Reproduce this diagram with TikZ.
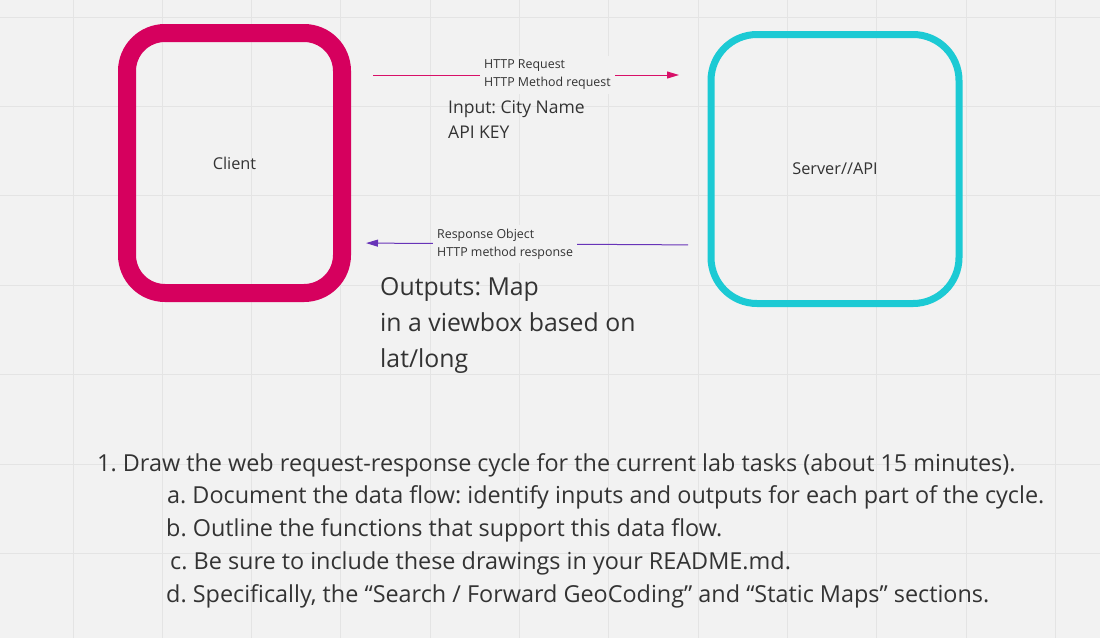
\documentclass[tikz,border=0pt]{standalone}
\usepackage{fontspec}
\setmainfont{Open Sans}
\frenchspacing
\usetikzlibrary{arrows.meta, positioning, calc}
\definecolor{bgcol}{RGB}{242,242,242}
\definecolor{gridcol}{RGB}{228,228,228}
\definecolor{clientcol}{RGB}{214,0,94}
\definecolor{servercol}{RGB}{28,202,212}
\definecolor{reqcol}{RGB}{216,16,104}
\definecolor{respcol}{RGB}{104,52,184}
\definecolor{textcol}{RGB}{51,51,51}

\begin{document}
\begin{tikzpicture}[
			x=1pt, y=-1pt,
			every node/.style={text=textcol},
			box/.style={
				draw,
				rectangle,
				font=\fontsize{16.3}{18}\selectfont
			},
			flowlabel/.style={
				align=left,
				anchor=west,
				fill=bgcol,
				inner sep=4pt,
				font=\fontsize{12.4}{18}\selectfont
			},
			note/.style={
				align=left,
				anchor=north west,
				inner sep=0pt
			},
			task/.style={
				anchor=base west,
				inner sep=0pt,
				font=\fontsize{23.4}{33}\selectfont
			},
			flow/.style={
				-{Triangle[length=12pt, width=7pt]},
				line width=1pt
			}
			]
			% Canvas and grid
			\fill[bgcol] (0,0) rectangle (1100,638);
			\useasboundingbox (0,0) rectangle (1100,638);
			\foreach \gx in {0,...,11}
				\draw[gridcol, line width=1pt] (73+89.3*\gx,0) -- (73+89.3*\gx,638);
			\foreach \gy in {0,...,6}
				\draw[gridcol, line width=1pt] (0,17+89.4*\gy) -- (1100,17+89.4*\gy);
			% Client and server
			\node[box, draw=clientcol, line width=18pt, rounded corners=38pt,
				minimum width=215pt, minimum height=260pt] (client) at (234.5,163) {Client};
			\node[box, draw=servercol, line width=7pt, rounded corners=46pt,
				minimum width=248pt, minimum height=269pt] (server) at (835,169) {Server//API};
			% Request and response
			\draw[flow, reqcol, shorten <=22pt, shorten >=28.5pt]
				(client.east |- 0,75) -- (server.west |- 0,75);
			\draw[flow, respcol, shorten <=19.5pt, shorten >=15pt]
				(server.west |- 0,245) -- (client.east |- 0,243);
			\node[flowlabel] (reqlbl) at (480,75) {HTTP Request\\HTTP Method request};
			\node[flowlabel] (resplbl) at (433,244) {Response Object\\HTTP method response};
			% Inputs and outputs
			\node[note, font=\fontsize{17.5}{25}\selectfont] (inputs) at (448,100)
				{Input: City Name\\API KEY};
			\node[note, font=\fontsize{24.8}{36}\selectfont] (outputs) at (380,277)
				{Outputs: Map\\in a viewbox based on\\lat/long};
			% Lab tasks
			\node[task] (task1) at (97,471) {1. Draw the web request-response cycle for the current lab tasks (about 15 minutes).};
			\node[task] (taska) at (167,503) {a. Document the data flow: identify inputs and outputs for each part of the cycle.};
			\node[task] (taskb) at (166,536) {b. Outline the functions that support this data flow.};
			\node[task] (taskc) at (170,569) {c. Be sure to include these drawings in your README.md.};
			\node[task] (taskd) at (166,602) {d. Specifically, the “Search / Forward GeoCoding” and “Static Maps” sections.};
		\end{tikzpicture}
\end{document}
